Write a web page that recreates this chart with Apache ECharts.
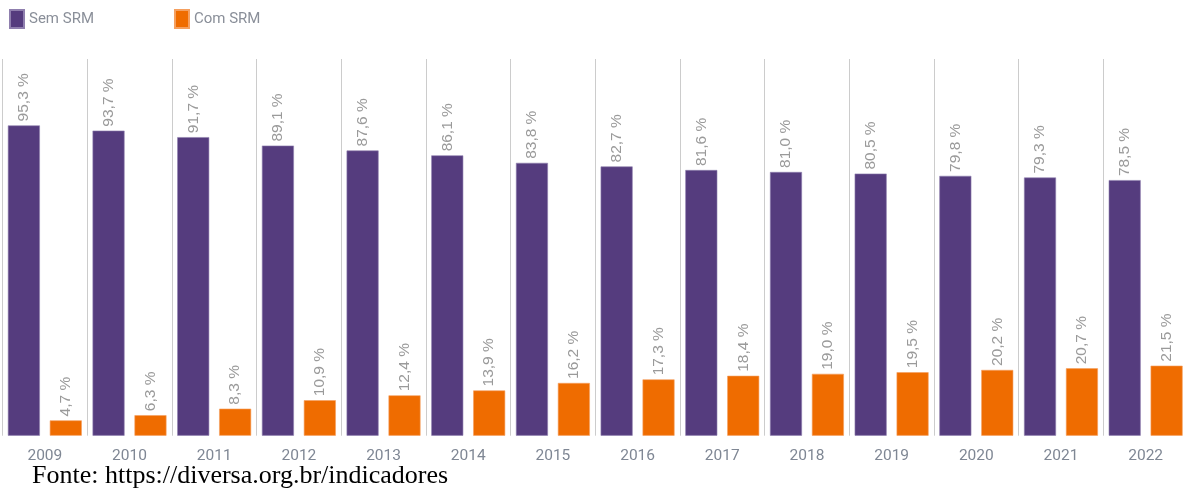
<!DOCTYPE html>
<html>
<head>
<meta charset="utf-8">
<script src="https://cdn.jsdelivr.net/npm/echarts@6/dist/echarts.min.js"></script>
<style>
html,body{margin:0;padding:0;background:#fff;}
#chart{width:1188px;height:493px;}
</style>
</head>
<body>
<div id="chart"></div>
<script>
const years = ['2009','2010','2011','2012','2013','2014','2015','2016','2017','2018','2019','2020','2021','2022'];
const semSRM = [95.3, 93.7, 91.7, 89.1, 87.6, 86.1, 83.8, 82.7, 81.6, 81.0, 80.5, 79.8, 79.3, 78.5];
const comSRM = [4.7, 6.3, 8.3, 10.9, 12.4, 13.9, 16.2, 17.3, 18.4, 19.0, 19.5, 20.2, 20.7, 21.5];
const seriesNames = ['Sem SRM', 'Com SRM'];
const sourceText = 'Fonte: https://diversa.org.br/indicadores';

const condensed = '"Roboto", sans-serif';
const fmt = p => p.value.toFixed(1).replace('.', ',') + ' %';

const chart = echarts.init(document.getElementById('chart'));
const labelCfg = {
  show: true,
  position: 'top',
  rotate: 90,
  align: 'left',
  verticalAlign: 'middle',
  distance: 4,
  color: '#9a9a9a',
  fontSize: 15.5,
  fontFamily: '"Liberation Sans", Arial, sans-serif',
  formatter: fmt
};
chart.setOption({
  animation: false,
  legend: {
    left: 9, top: 9, padding: 0,
    itemWidth: 14, itemHeight: 18, itemGap: 80,
    icon: 'rect',
    textStyle: { color: '#8a8f99', fontSize: 15, fontFamily: condensed, padding: [0,0,0,0] },
    data: seriesNames
  },
  grid: { left: 2.5, width: 1190, top: 59, bottom: 57.3, containLabel: false },
  xAxis: {
    type: 'category',
    data: years,
    axisLine: { show: false },
    axisTick: { show: false },
    axisLabel: { color: '#7f8794', fontSize: 15.5, fontFamily: condensed, margin: 12 },
    splitLine: { show: true, lineStyle: { color: '#cccccc', width: 1 } }
  },
  yAxis: { type: 'value', min: 0, max: 115.7, show: false, splitLine: { show: false } },
  series: [
    {
      name: seriesNames[0], type: 'bar', data: semSRM,
      barWidth: 32, barGap: '31%',
      itemStyle: { color: '#553c7e', borderColor: '#8f7fae', borderWidth: 0.6 },
      label: labelCfg
    },
    {
      name: seriesNames[1], type: 'bar', data: comSRM,
      barWidth: 32,
      itemStyle: { color: '#ef6c00', borderColor: '#f5a060', borderWidth: 0.6 },
      label: labelCfg
    }
  ],
  graphic: [{
    type: 'text', left: 32, top: 463,
    style: { text: sourceText, fill: '#000', fontSize: 26, fontFamily: '"Liberation Serif", "Times New Roman", serif' }
  }]
});
</script>
</body>
</html>
